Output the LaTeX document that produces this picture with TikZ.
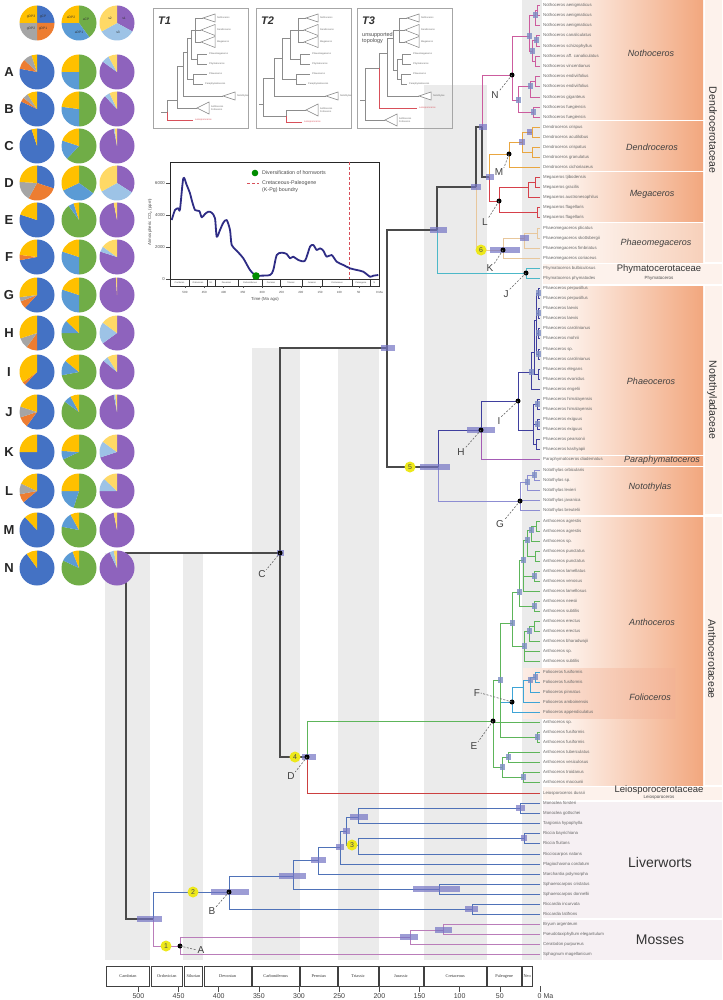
\documentclass[tikz,border=0pt]{standalone}
\usepackage{fontspec}
\setmainfont{Liberation Sans}
\newfontfamily\tserif{Liberation Serif}
\usetikzlibrary{calc}
\definecolor{bandc}{HTML}{EBEBEB}
\definecolor{bbc}{HTML}{4A4A4A}
\definecolor{cNotho}{HTML}{CC5C9E}
\definecolor{cDendro}{HTML}{E9A640}
\definecolor{cMega}{HTML}{D6404A}
\definecolor{cPmeg}{HTML}{E8C79C}
\definecolor{cPhym}{HTML}{4CB8C8}
\definecolor{cPhaeo}{HTML}{3F3F9E}
\definecolor{cPara}{HTML}{A45BB5}
\definecolor{cNoto}{HTML}{8D8DD2}
\definecolor{cAnth}{HTML}{5DB55A}
\definecolor{cFol}{HTML}{3EA4D6}
\definecolor{cLeio}{HTML}{CC4040}
\definecolor{cLiv}{HTML}{4F72B8}
\definecolor{cMoss}{HTML}{BA7DBA}
\definecolor{cBar}{HTML}{7474C4}
\definecolor{cSbar}{HTML}{7C8CC4}
\definecolor{peach}{HTML}{F2A77E}
\definecolor{peachl}{HTML}{F7D0BA}
\definecolor{folc}{HTML}{F3B394}
\definecolor{famc}{HTML}{FDF2EC}
\definecolor{outc}{HTML}{F6F0F3}
\definecolor{kpg}{HTML}{D8505A}
\definecolor{pBlue}{HTML}{4472C4}
\definecolor{pOrange}{HTML}{ED7D31}
\definecolor{pGray}{HTML}{A5A5A5}
\definecolor{pYellow}{HTML}{FFC000}
\definecolor{pGreen}{HTML}{70AD47}
\definecolor{pLBlue}{HTML}{5B9BD5}
\definecolor{pPurple}{HTML}{8E63BD}
\definecolor{pPaleBlue}{HTML}{9DC3E6}
\definecolor{pPaleYel}{HTML}{FFD966}
\definecolor{ycol}{HTML}{EDE81A}
\definecolor{co2c}{HTML}{2E2C85}
\newcommand{\edg}[3]{\draw[#1] (#2) |- (#3);}
\newcommand{\mypie}[3]{%
  \gdef\pieacc{0}%
  \edef\pielist{#3}%
  \foreach \f/\c in \pielist {%
    \pgfmathsetmacro{\aS}{90-360*\pieacc}%
    \pgfmathsetmacro{\aE}{90-360*(\pieacc+\f)}%
    \fill[\c] (#1,#2) -- ++(\aS:17.5pt) arc[start angle=\aS, end angle=\aE, radius=17.5pt] -- cycle;
    \pgfmathsetmacro{\tmpacc}{\pieacc+\f}\xdef\pieacc{\tmpacc}%
  }}
\newcommand{\mtips}[1]{%
 \coordinate (#1No) at (50,10); \coordinate (#1De) at (48,22); \coordinate (#1Me) at (48,34);
 \coordinate (#1Pm) at (54,46); \coordinate (#1Py) at (54,56); \coordinate (#1Ph) at (54,66); \coordinate (#1Pa) at (50,76);
 \draw[tri] (#1No) -- (62,6) -- (62,14) -- cycle; \node[mtl] (#1lNo) at (64,10) {Nothoceros};
 \draw[tri] (#1De) -- (62,16.5) -- (62,27.5) -- cycle; \node[mtl] (#1lDe) at (64,22) {Dendroceros};
 \draw[tri] (#1Me) -- (62,28.5) -- (62,39.5) -- cycle; \node[mtl] (#1lMe) at (64,34) {Megaceros};
 \node[mtl] (#1lPm) at (56,46) {Phaeomegaceros};
 \node[mtl] (#1lPy) at (56,56) {Phymatoceros};
 \node[mtl] (#1lPh) at (56,66) {Phaeoceros};
 \node[mtl] (#1lPa) at (52,76) {Paraphymatoceros};}
\begin{document}
\begin{tikzpicture}[x=1pt,y=-1pt,
  br/.style={line width=0.9pt},
  bb/.style={draw=bbc,line width=1.2pt},
  notho/.style={br,draw=cNotho}, dendro/.style={br,draw=cDendro}, mega/.style={br,draw=cMega},
  pmeg/.style={br,draw=cPmeg}, phym/.style={br,draw=cPhym}, phaeo/.style={br,draw=cPhaeo},
  para/.style={br,draw=cPara}, noto/.style={br,draw=cNoto}, anth/.style={br,draw=cAnth},
  fol/.style={br,draw=cFol}, leio/.style={br,draw=cLeio}, liv/.style={br,draw=cLiv}, moss/.style={br,draw=cMoss},
  hpd/.style={fill=cBar,opacity=0.7}, sbar/.style={fill=cSbar,opacity=0.8},
  leaf/.style={anchor=west,inner sep=0,font=\fontsize{4.3}{4.3}\selectfont,text=black!60},
  gen/.style={inner sep=0,font=\fontsize{9}{9}\selectfont\itshape,text=black!75},
  fam/.style={inner sep=0,font=\fontsize{9.5}{9.5}\selectfont,text=black!80},
  famsm/.style={inner sep=0,font=\fontsize{4.5}{4.5}\selectfont,text=black!70},
  famr/.style={inner sep=0,font=\fontsize{10.5}{10.5}\selectfont,text=black!80,rotate=-90},
  bigl/.style={inner sep=0,font=\fontsize{14}{14}\selectfont,text=black!80},
  letl/.style={inner sep=0.5pt,font=\fontsize{10}{10}\selectfont,text=black!75},
  lead/.style={draw=black!60,line width=0.6pt,dash pattern=on 2pt off 1.5pt},
  ycirc/.style={circle,fill=ycol,inner sep=0,minimum size=11pt,font=\fontsize{7}{7}\selectfont,text=black!70},
  mt/.style={draw=black!45,line width=0.5pt}, mtr/.style={draw=kpg,line width=0.5pt},
  mtl/.style={anchor=west,inner sep=0,font=\fontsize{2.4}{2.6}\selectfont,text=black!60},
  tri/.style={draw=black!50,line width=0.5pt,fill=white},
  tlab/.style={anchor=west,inner sep=0,font=\fontsize{11}{11}\selectfont\bfseries\itshape,text=black!80},
  rowlab/.style={inner sep=0,font=\fontsize{13}{13}\selectfont\bfseries,text=black!85},
  pl/.style={inner sep=0,font=\fontsize{3.3}{3.3}\selectfont,text=black!80},
  co2t/.style={inner sep=0,font=\fontsize{4.3}{4.3}\selectfont,text=black!70},
  tick/.style={draw=black!70,line width=0.6pt}
]
\useasboundingbox (0,0) rectangle (722,1000);
\fill[white] (0,0) rectangle (722,1000);
% ---------- geological bands
\foreach \a/\b/\tp in {541/485/553,444/419/553,359/299/348,252/201/348,145/66/85}
  \fill[bandc] ({540-0.8032*\a},\tp) rectangle ({540-0.8032*\b},960);
\fill[bandc] (521.5,0) rectangle (542,960);
% ---------- clade boxes
\shade[left color=white,right color=peach] (543,0) rectangle (703,120);
\shade[left color=white,right color=peach] (543,122) rectangle (703,171);
\shade[left color=white,right color=peach] (543,173) rectangle (703,222);
\shade[left color=white,right color=peachl] (543,224) rectangle (703,262);
\fill[famc] (543,264) rectangle (722,284);
\shade[left color=white,right color=peach] (543,286) rectangle (703,454);
\shade[left color=white,right color=peach] (543,456) rectangle (703,465);
\shade[left color=white,right color=peach] (543,467) rectangle (703,514);
\shade[left color=white,right color=peach] (543,517) rectangle (703,785);
\shade[left color=folc!25,right color=folc] (523,668) rectangle (675,718);
\fill[famc] (543,787) rectangle (722,800);
\fill[outc] (543,802) rectangle (722,918);
\fill[outc] (543,920) rectangle (722,960);
\fill[famc] (705,0) rectangle (722,262);
\fill[famc] (705,286) rectangle (722,514);
\fill[famc] (705,517) rectangle (722,785);
% ---------- leaves
\foreach \y/\nm in {5/Nothoceros aenigmaticus,15/Nothoceros aenigmaticus,25/Nothoceros aenigmaticus,35/Nothoceros canaliculatus,46/Nothoceros schizophyllus,56/Nothoceros aff. canaliculatus,66/Nothoceros vincentianus,76/Nothoceros endiviifolius,86/Nothoceros endiviifolius,97/Nothoceros giganteus,107/Nothoceros fuegiensis,117/Nothoceros fuegiensis,127/Dendroceros crispus,137/Dendroceros acutilobus,147/Dendroceros crispatus,157/Dendroceros granulatus,167/Dendroceros cichoriaceus,177/Megaceros tjibodensis,187/Megaceros gracilis,197/Megaceros austronesophilus,207/Megaceros flagellaris,217/Megaceros flagellaris,228/Phaeomegaceros plicatus,238/Phaeomegaceros skottsbergii,248/Phaeomegaceros fimbriatus,258/Phaeomegaceros coriaceus,268/Phymatoceros bulbiculosus,278/Phymatoceros phymatodes,288/Phaeoceros perpusillus,298/Phaeoceros perpusillus,308/Phaeoceros laevis,318/Phaeoceros laevis,328/Phaeoceros carolinianus,338/Phaeoceros mohrii,349/Phaeoceros sp.,359/Phaeoceros carolinianus,369/Phaeoceros elegans,379/Phaeoceros evanidus,389/Phaeoceros engelii,399/Phaeoceros himalayensis,409/Phaeoceros himalayensis,419/Phaeoceros exiguus,429/Phaeoceros exiguus,439/Phaeoceros pearsonii,449/Phaeoceros kashyapii,459/Paraphymatoceros diadematus,470/Notothylas orbicularis,480/Notothylas sp.,490/Notothylas levieri,500/Notothylas javanica,510/Notothylas breutelii,521/Anthoceros agrestis,531/Anthoceros agrestis,541/Anthoceros sp.,551/Anthoceros punctatus,561/Anthoceros punctatus,571/Anthoceros lamellatus,581/Anthoceros venosus,591/Anthoceros lamellosus,601/Anthoceros neesii,611/Anthoceros subtilis,621/Anthoceros erectus,631/Anthoceros erectus,641/Anthoceros bharadwajii,651/Anthoceros sp.,661/Anthoceros subtilis,672/Folioceros fusiformis,682/Folioceros fusiformis,692/Folioceros pinnatus,702/Folioceros amboinensis,712/Folioceros appendiculatus,722/Anthoceros sp.,732/Anthoceros fusiformis,742/Anthoceros fusiformis,752/Anthoceros tuberculatus,762/Anthoceros vesiculosus,772/Anthoceros troidanus,782/Anthoceros macounii,793/Leiosporoceros dussii,803/Monoclea forsteri,813/Monoclea gottschei,823/Targionia hypophylla,833/Riccia bayrichiana,843/Riccia fluitans,854/Ricciocarpos natans,864/Plagiochasma cordatum,874/Marchantia polymorpha,884/Sphaerocarpos cristatus,894/Sphaerocarpos donnellii,904/Riccardia incurvata,914/Riccardia latifrons,924/Bryum argenteum,934/Pseudotaxiphyllum elegantulum,944/Ceratodon purpureus,954/Sphagnum magellanicum}
  {\coordinate (t\y) at (540,\y); \node[leaf] (lab\y) at (543,\y) {\nm};}
% ---------- internal nodes
\coordinate (root) at (126,736); \coordinate (C) at (280,553); \coordinate (U) at (387,348);
\coordinate (D) at (307,757); \coordinate (N5) at (438,467); \coordinate (X1) at (437,230);
\coordinate (X2) at (476,187); \coordinate (X3) at (482,127); \coordinate (X4) at (489,177);
\coordinate (J) at (526,273); \coordinate (K) at (503,250); \coordinate (N) at (512,75);
\coordinate (M) at (509,154); \coordinate (L) at (499,201);
\coordinate (Nu) at (529,36); \coordinate (Nl) at (518,100); \coordinate (Na) at (535,15); \coordinate (Na1) at (537,10);
\coordinate (Nb) at (532,51); \coordinate (Nb1) at (536,40); \coordinate (Nb2) at (535,61);
\coordinate (Nc) at (530,86); \coordinate (Nc1) at (535,81); \coordinate (Nd) at (533,112);
\coordinate (Ma) at (522,142); \coordinate (Mb) at (532,132); \coordinate (Mc) at (532,152);
\coordinate (La) at (528,187); \coordinate (La1) at (535,182); \coordinate (Lb) at (537,212);
\coordinate (Ka) at (524,238); \coordinate (Ka1) at (537,233);
\coordinate (H) at (481,430); \coordinate (G) at (520,501); \coordinate (I) at (518,401);
\coordinate (P1) at (531,372); \coordinate (P2) at (534,352); \coordinate (P3) at (536,320); \coordinate (P4) at (538,374);
\coordinate (Q1) at (538,293); \coordinate (Q2) at (538,313); \coordinate (Q3) at (538,333); \coordinate (Q4) at (538,354);
\coordinate (P5) at (533,430); \coordinate (R1) at (537,404); \coordinate (R2) at (537,424); \coordinate (R3) at (536,444);
\coordinate (Ga) at (527,482); \coordinate (Gb) at (534,475);
\coordinate (E) at (493,721); \coordinate (E1) at (500,680); \coordinate (Eb) at (502,767);
\coordinate (Ac) at (512,623); \coordinate (F) at (512,702); \coordinate (Af) at (537,737);
\coordinate (Aa) at (519,592); \coordinate (Ab) at (524,646); \coordinate (Aa1) at (523,560); \coordinate (Aa2) at (534,606);
\coordinate (Aa11) at (527,540); \coordinate (Aa12) at (534,576); \coordinate (Aa111) at (531,530);
\coordinate (Aa1111) at (536,526); \coordinate (Aa112) at (535,556);
\coordinate (Ab1) at (529,631); \coordinate (Ab2) at (534,626);
\coordinate (Fa) at (523,687); \coordinate (Fb) at (530,680); \coordinate (Fc) at (535,677);
\coordinate (Ec) at (508,757); \coordinate (Ed) at (523,777);
\coordinate (LM) at (153,919); \coordinate (B) at (229,892); \coordinate (A) at (180,946);
\coordinate (Lc) at (293,876); \coordinate (Rc) at (472,909); \coordinate (Lm) at (318,860);
\coordinate (Sp) at (439,889); \coordinate (Lm2) at (340,847); \coordinate (Lm3) at (346,831);
\coordinate (Mon) at (358,817); \coordinate (R3n) at (358,845); \coordinate (Mon2) at (520,808); \coordinate (Ric) at (524,838);
\coordinate (Mo1) at (410,937); \coordinate (Mo2) at (443,930);
% ---------- edges: coloured clades
\edg{notho}{X3}{N} \edg{notho}{N}{Nu} \edg{notho}{N}{Nl} \edg{notho}{Nu}{Na} \edg{notho}{Nu}{Nb}
\edg{notho}{Na}{Na1} \edg{notho}{Na}{t25} \edg{notho}{Na1}{t5} \edg{notho}{Na1}{t15}
\edg{notho}{Nb}{Nb1} \edg{notho}{Nb}{Nb2} \edg{notho}{Nb1}{t35} \edg{notho}{Nb1}{t46} \edg{notho}{Nb2}{t56} \edg{notho}{Nb2}{t66}
\edg{notho}{Nl}{Nc} \edg{notho}{Nl}{Nd} \edg{notho}{Nc}{Nc1} \edg{notho}{Nc}{t97} \edg{notho}{Nc1}{t76} \edg{notho}{Nc1}{t86}
\edg{notho}{Nd}{t107} \edg{notho}{Nd}{t117}
\edg{dendro}{X4}{M} \edg{dendro}{M}{Ma} \edg{dendro}{M}{t167} \edg{dendro}{Ma}{Mb} \edg{dendro}{Ma}{Mc}
\edg{dendro}{Mb}{t127} \edg{dendro}{Mb}{t137} \edg{dendro}{Mc}{t147} \edg{dendro}{Mc}{t157}
\edg{mega}{X4}{L} \edg{mega}{L}{La} \edg{mega}{L}{Lb} \edg{mega}{La}{La1} \edg{mega}{La}{t197}
\edg{mega}{La1}{t177} \edg{mega}{La1}{t187} \edg{mega}{Lb}{t207} \edg{mega}{Lb}{t217}
\edg{pmeg}{X2}{K} \edg{pmeg}{K}{Ka} \edg{pmeg}{K}{t258} \edg{pmeg}{Ka}{Ka1} \edg{pmeg}{Ka}{t248}
\edg{pmeg}{Ka1}{t228} \edg{pmeg}{Ka1}{t238}
\edg{phym}{X1}{J} \edg{phym}{J}{t268} \edg{phym}{J}{t278}
\edg{phaeo}{N5}{H} \edg{noto}{N5}{G} \edg{phaeo}{H}{I} \edg{para}{H}{t459}
\edg{phaeo}{I}{P1} \edg{phaeo}{I}{P5} \edg{phaeo}{P1}{P2} \edg{phaeo}{P1}{t389} \edg{phaeo}{P2}{P3} \edg{phaeo}{P2}{P4}
\edg{phaeo}{P3}{Q1} \edg{phaeo}{P3}{Q2} \edg{phaeo}{P3}{Q3} \edg{phaeo}{P3}{Q4}
\edg{phaeo}{P4}{t369} \edg{phaeo}{P4}{t379}
\edg{phaeo}{Q1}{t288} \edg{phaeo}{Q1}{t298} \edg{phaeo}{Q2}{t308} \edg{phaeo}{Q2}{t318}
\edg{phaeo}{Q3}{t328} \edg{phaeo}{Q3}{t338} \edg{phaeo}{Q4}{t349} \edg{phaeo}{Q4}{t359}
\edg{phaeo}{P5}{R1} \edg{phaeo}{P5}{R2} \edg{phaeo}{P5}{R3}
\edg{phaeo}{R1}{t399} \edg{phaeo}{R1}{t409} \edg{phaeo}{R2}{t419} \edg{phaeo}{R2}{t429} \edg{phaeo}{R3}{t439} \edg{phaeo}{R3}{t449}
\edg{noto}{G}{Ga} \edg{noto}{G}{t500} \edg{noto}{G}{t510} \edg{noto}{Ga}{Gb} \edg{noto}{Ga}{t490}
\edg{noto}{Gb}{t470} \edg{noto}{Gb}{t480}
\edg{anth}{D}{E} \edg{leio}{D}{t793}
\edg{anth}{E}{E1} \edg{anth}{E}{t722} \edg{anth}{E}{Eb} \edg{anth}{E1}{Ac} \edg{fol}{E1}{F} \edg{anth}{E1}{Af}
\edg{anth}{Ac}{Aa} \edg{anth}{Ac}{Ab} \edg{anth}{Aa}{Aa1} \edg{anth}{Aa}{Aa2} \edg{anth}{Aa2}{t601} \edg{anth}{Aa2}{t611}
\edg{anth}{Aa1}{Aa11} \edg{anth}{Aa1}{Aa12} \edg{anth}{Aa1}{t591} \edg{anth}{Aa12}{t571} \edg{anth}{Aa12}{t581}
\edg{anth}{Aa11}{Aa111} \edg{anth}{Aa11}{Aa112} \edg{anth}{Aa111}{Aa1111} \edg{anth}{Aa111}{t541}
\edg{anth}{Aa1111}{t521} \edg{anth}{Aa1111}{t531} \edg{anth}{Aa112}{t551} \edg{anth}{Aa112}{t561}
\edg{anth}{Ab}{Ab1} \edg{anth}{Ab}{t651} \edg{anth}{Ab}{t661} \edg{anth}{Ab1}{Ab2} \edg{anth}{Ab1}{t641}
\edg{anth}{Ab2}{t621} \edg{anth}{Ab2}{t631}
\edg{fol}{F}{Fa} \edg{fol}{F}{t712} \edg{fol}{Fa}{Fb} \edg{fol}{Fa}{t702} \edg{fol}{Fb}{Fc} \edg{fol}{Fb}{t692}
\edg{fol}{Fc}{t672} \edg{fol}{Fc}{t682}
\edg{anth}{Af}{t732} \edg{anth}{Af}{t742} \edg{anth}{Eb}{Ec} \edg{anth}{Eb}{Ed}
\edg{anth}{Ec}{t752} \edg{anth}{Ec}{t762} \edg{anth}{Ed}{t772} \edg{anth}{Ed}{t782}
\edg{liv}{LM}{B} \edg{moss}{LM}{A}
\edg{liv}{B}{Lc} \edg{liv}{B}{Rc} \edg{liv}{Lc}{Lm} \edg{liv}{Lc}{Sp} \edg{liv}{Lm}{Lm2} \edg{liv}{Lm}{t874}
\edg{liv}{Lm2}{Lm3} \edg{liv}{Lm2}{t864} \edg{liv}{Lm3}{Mon} \edg{liv}{Lm3}{R3n}
\edg{liv}{Mon}{Mon2} \edg{liv}{Mon}{t823} \edg{liv}{Mon2}{t803} \edg{liv}{Mon2}{t813}
\edg{liv}{R3n}{Ric} \edg{liv}{R3n}{t854} \edg{liv}{Ric}{t833} \edg{liv}{Ric}{t843}
\edg{liv}{Sp}{t884} \edg{liv}{Sp}{t894} \edg{liv}{Rc}{t904} \edg{liv}{Rc}{t914}
\edg{moss}{A}{Mo1} \edg{moss}{A}{t954} \edg{moss}{Mo1}{Mo2} \edg{moss}{Mo1}{t944}
\edg{moss}{Mo2}{t924} \edg{moss}{Mo2}{t934}
% ---------- backbone
\edg{bb}{root}{C} \edg{bb}{root}{LM} \edg{bb}{C}{U} \edg{bb}{C}{D}
\edg{bb}{U}{X1} \edg{bb}{U}{N5} \edg{bb}{X1}{X2} \edg{bb}{X2}{X3} \edg{bb}{X3}{X4}
% ---------- HPD bars
\foreach \a/\b/\yy in {137/162/919,211/249/892,279/306/876,311/326/860,336/344/847,343/350/831,350/368/817,516/525/808,521/527/838,413/460/889,465/478/909,400/418/937,435/452/930,277/284/553,381/395/348,302/316/757,430/447/230,471/481/187,479/487/127,486/494/177,519/525/142,520/529/238,490/520/250,420/450/467,467/495/430,527/532/132}
  \fill[hpd] (\a,{\yy-3.2}) rectangle (\b,{\yy+3.2});
\foreach \xx/\yy in {500/680,512/623,519/592,523/560,527/540,531/530,530/680,524/646,529/631,502/767,508/757,523/777,537/737,534/606,534/576,535/677,529/36,518/100,530/86,535/15,532/51,536/40,533/112,538/293,538/313,538/333,538/354,537/404,537/424,531/372,527/482,534/475}
  \fill[sbar] ({\xx-2.5},{\yy-3.2}) rectangle ({\xx+2.5},{\yy+3.2});
% ---------- labelled nodes
\foreach \nn in {A,B,C,D,E,F,G,H,I,J,K,L,M,N} \fill[black] (\nn) circle (2.5pt);
\node[ycirc] (y1) at (166,946) {1};
\node[ycirc] (y2) at (193,892) {2};
\node[ycirc] (y3) at (352,845) {3};
\node[ycirc] (y4) at (295,757) {4};
\node[ycirc] (y5) at (410,467) {5};
\node[ycirc] (y6) at (481,250) {6};
\node[letl,anchor=west] (lA) at (197,950) {A}; \draw[lead] (A) -- (lA.west);
\foreach \nn/\lx/\ly in {B/212/911,C/262/574,D/291/776,E/474/746,G/500/524,H/461/452,I/499/421,J/506/294,K/490/268,L/485/222,M/499/172,N/495/95}
  {\node[letl] (l\nn) at (\lx,\ly) {\nn}; \draw[lead] (\nn) -- (l\nn.north east);}
\node[letl] (lF) at (477,693) {F}; \draw[lead] (F) -- (lF.east);
% ---------- right-hand labels
\node[gen] (gNotho) at (651,53) {Nothoceros};
\node[gen] (gDendro) at (652,147) {Dendroceros};
\node[gen] (gMega) at (652,194) {Megaceros};
\node[gen] (gPmeg) at (656,243) {Phaeomegaceros};
\node[fam] (fPhym) at (659,269) {Phymatocerotaceae};
\node[famsm] (sPhym) at (659,278) {Phymatoceros};
\node[gen] (gPhaeo) at (651,381) {Phaeoceros};
\node[gen] (gPara) at (662,460) {Paraphymatoceros};
\node[gen] (gNoto) at (650,487) {Notothylas};
\node[gen] (gAnth) at (652,622) {Anthoceros};
\node[gen] (gFol) at (650,697) {Folioceros};
\node[fam] (fLeio) at (659,790) {Leiosporocerotaceae};
\node[famsm] (sLeio) at (659,797.5) {Leiosporoceros};
\node[famr] (fDendro) at (713,130) {Dendrocerotaceae};
\node[famr] (fNoto) at (712,400) {Notothyladaceae};
\node[famr] (fAnth) at (712,659) {Anthocerotaceae};
\node[bigl] (fLiv) at (660,862) {Liverworts};
\node[bigl] (fMoss) at (660,940) {Mosses};
% ---------- bottom time scale
\foreach \a/\b/\nm in {541/485/Cambrian,485/444/Ordovician,444/419/Silurian,419/359/Devonian,359/299/Carboniferous,299/252/Permian,252/201/Triassic,201/145/Jurassic,145/66/Cretaceous,66/23/Paleogene,23/9/Neo}
  {\draw[black!75,line width=0.6pt] ({540-0.8032*\a+0.7},966) rectangle ({540-0.8032*\b-0.7},986);
   \node[inner sep=0,font=\tserif\fontsize{4.3}{4.3}\selectfont,text=black!80] (per\a) at ({540-0.8032*(\a+\b)/2},976) {\nm};}
\foreach \t in {500,450,...,0} \draw[tick] ({540-0.8032*\t},986) -- ({540-0.8032*\t},992);
\foreach \t in {500,450,...,50} \node[inner sep=0,anchor=north,font=\fontsize{7}{7}\selectfont,text=black!75] (tk\t) at ({540-0.8032*\t},993) {\t};
\node[inner sep=0,anchor=north west,font=\fontsize{7}{7}\selectfont,text=black!75] (tk0) at (537.5,993) {0 Ma};
% ---------- CO2 inset
\draw[black!85,line width=0.7pt] (170,162) rectangle (379,279);
\foreach \v/\yy in {0/279,2000/247,4000/215,6000/183}
  {\draw[black!70,line width=0.5pt] (166,\yy) -- (170,\yy); \node[co2t,anchor=east] (yt\v) at (165,\yy) {\v};}
\node[co2t,rotate=90] (co2title) at (150,222) {Atmospheric CO\textsubscript{2} (ppm)};
\foreach \a/\b/\nm in {170/189/Cambrian,189/207/Ordovician,207/215/Sil.,215/238/Devonian,238/262/Carboniferous,262/280/Permian,280/302/Triassic,302/322/Jurassic,322/352/Cretaceous,352/370/Paleogene,370/379/N}
  {\draw[black!80,line width=0.4pt] (\a,279) rectangle (\b,286);
   \node[inner sep=0,font=\fontsize{2.2}{2.2}\selectfont,text=black!70] (cp\a) at ({(\a+\b)/2},282.5) {\nm};}
\foreach \t in {500,450,...,50}
  {\draw[black!70,line width=0.4pt] ({378-0.386*\t},286) -- ({378-0.386*\t},288);
   \node[inner sep=0,font=\fontsize{3}{3}\selectfont,text=black!70] (ct\t) at ({378-0.386*\t},292) {\t};}
\node[inner sep=0,anchor=west,font=\fontsize{3}{3}\selectfont,text=black!70] (ct0) at (376,292) {0 Ma};
\node[co2t] (timelab) at (265,299) {Time (Ma ago)};
\draw[kpg,line width=0.7pt,dash pattern=on 3pt off 2pt] (349,162) -- (349,279);
\draw[co2c,line width=1.8pt,line join=round] plot[smooth,tension=0.45] coordinates {(171.7,220) (175,210) (178.3,208.3) (180,209.3) (183.3,178.3) (186.7,185) (190,193.3) (191.7,200) (195,210) (199.3,211) (201.7,217.3) (205,214) (208.3,211.7) (211.7,212.7) (215,218.3) (216.7,236.7) (220,230) (223.3,222.7) (226.7,220) (230,230) (231.7,245) (236.7,250.7) (243.3,258.3) (250,270) (256,276) (260,275.7) (270,275) (273.3,270) (276.7,255) (281.7,252.7) (286.7,254) (290,258.3) (293.3,256.7) (298.3,260) (305,260.7) (310,246.7) (313.3,245) (316.7,250) (320,248.3) (323.3,250.7) (326.7,256.7) (331.7,255) (336.7,261.7) (343.3,265) (350,268.3) (356.7,270) (363.3,271.7) (370,276.7) (373.3,275.7) (378.3,275)};
\fill[green!55!black] (256,276) circle (3.8pt);
\fill[green!55!black] (255,173) circle (3.3pt);
\node[inner sep=0,anchor=west,font=\fontsize{5.3}{5.3}\selectfont,text=black!70] (lg1) at (262,173) {Diversification of hornworts};
\draw[kpg,line width=0.7pt,dash pattern=on 3pt off 2pt] (247,183) -- (259,183);
\node[inner sep=0,anchor=west,font=\fontsize{5.3}{5.3}\selectfont,text=black!70] (lg2) at (262,183) {Cretaceous-Paleogene};
\node[inner sep=0,anchor=west,font=\fontsize{5.3}{5.3}\selectfont,text=black!70] (lg3) at (262,190.5) {(K-Pg) boundry};
% ---------- T insets
\foreach \bx in {153,256,357} \draw[black!35,line width=0.7pt] (\bx,8) rectangle ({\bx+95},128);
\begin{scope}[shift={(153,8)}]
 \node[tlab] (T1lab) at (5,13) {T1};
 \mtips{p}
 \coordinate (p0) at (8,104); \coordinate (pa) at (14,104); \coordinate (pb) at (24,92); \coordinate (pc) at (30,58);
 \coordinate (pd) at (34,44); \coordinate (pe) at (38,30); \coordinate (pf) at (40,71); \coordinate (pg) at (42,22); \coordinate (ph) at (44,51);
 \coordinate (pNt) at (70,88); \coordinate (pAn) at (44,100); \coordinate (pLe) at (40,112);
 \draw[mt] (p0) -- (pa);
 \edg{mt}{pa}{pb} \edg{mtr}{pa}{pLe} \edg{mt}{pb}{pc} \edg{mt}{pb}{pAn} \edg{mt}{pc}{pd} \edg{mt}{pc}{pNt}
 \edg{mt}{pd}{pe} \edg{mt}{pd}{pf} \edg{mt}{pf}{pPh} \edg{mt}{pf}{pPa} \edg{mt}{pe}{pg} \edg{mt}{pe}{ph}
 \edg{mt}{ph}{pPm} \edg{mt}{ph}{pPy} \edg{mt}{pg}{pNo} \edg{mt}{pg}{pDe} \edg{mt}{pg}{pMe}
 \draw[tri] (pNt) -- (82,84) -- (82,92) -- cycle; \node[mtl] (plNt) at (84,88) {Notothylas};
 \draw[tri] (pAn) -- (56,94) -- (56,106) -- cycle; \node[mtl,align=left] (plAn) at (58,100) {Anthoceros\\Folioceros};
 \node[mtl,text=kpg] (plLe) at (42,112) {Leiosporoceros};
\end{scope}
\begin{scope}[shift={(256,8)}]
 \node[tlab] (T2lab) at (5,13) {T2};
 \mtips{q}
 \coordinate (q0) at (3,96); \coordinate (qa) at (7,96); \coordinate (qb) at (18,70); \coordinate (qm) at (30,108);
 \coordinate (qc) at (26,50); \coordinate (qe) at (34,30); \coordinate (qf) at (40,71); \coordinate (qg) at (42,22); \coordinate (qh) at (44,51);
 \coordinate (qNt) at (70,88); \coordinate (qAn) at (50,102); \coordinate (qLe) at (46,114);
 \draw[mt] (q0) -- (qa);
 \edg{mt}{qa}{qb} \edg{mt}{qa}{qm} \edg{mt}{qm}{qAn} \edg{mtr}{qm}{qLe} \edg{mt}{qb}{qc} \edg{mt}{qb}{qNt}
 \edg{mt}{qc}{qe} \edg{mt}{qc}{qf} \edg{mt}{qf}{qPh} \edg{mt}{qf}{qPa} \edg{mt}{qe}{qg} \edg{mt}{qe}{qh}
 \edg{mt}{qh}{qPm} \edg{mt}{qh}{qPy} \edg{mt}{qg}{qNo} \edg{mt}{qg}{qDe} \edg{mt}{qg}{qMe}
 \draw[tri] (qNt) -- (82,84) -- (82,92) -- cycle; \node[mtl] (qlNt) at (84,88) {Notothylas};
 \draw[tri] (qAn) -- (62,96) -- (62,108) -- cycle; \node[mtl,align=left] (qlAn) at (64,102) {Anthoceros\\Folioceros};
 \node[mtl,text=kpg] (qlLe) at (48,114) {Leiosporoceros};
\end{scope}
\begin{scope}[shift={(357,8)}]
 \node[tlab] (T3lab) at (5,13) {T3};
 \node[inner sep=0,anchor=north west,align=left,font=\fontsize{5.5}{6.2}\selectfont,text=black!70] (T3txt) at (5,24) {unsupported\\topology};
 \mtips{r}
 \coordinate (r0) at (3,92); \coordinate (ra) at (8,92); \coordinate (rb) at (22,60); \coordinate (rc) at (30,45);
 \coordinate (re) at (36,30); \coordinate (rk) at (40,62); \coordinate (rg) at (42,22); \coordinate (rh) at (45,51); \coordinate (rf) at (44,71);
 \coordinate (rNt) at (62,88); \coordinate (rAn) at (28,112); \coordinate (rLe) at (60,100);
 \draw[mt] (r0) -- (ra);
 \edg{mt}{ra}{rb} \edg{mt}{ra}{rAn} \edg{mt}{rb}{rc} \edg{mtr}{rb}{rLe} \edg{mt}{rc}{re} \edg{mt}{rc}{rNt}
 \edg{mt}{re}{rg} \edg{mt}{re}{rk} \edg{mt}{rk}{rh} \edg{mt}{rk}{rf}
 \edg{mt}{rh}{rPm} \edg{mt}{rh}{rPy} \edg{mt}{rf}{rPh} \edg{mt}{rf}{rPa} \edg{mt}{rg}{rNo} \edg{mt}{rg}{rDe} \edg{mt}{rg}{rMe}
 \draw[tri] (rNt) -- (74,84) -- (74,92) -- cycle; \node[mtl] (rlNt) at (76,88) {Notothylas};
 \draw[tri] (rAn) -- (40,106) -- (40,118) -- cycle; \node[mtl,align=left] (rlAn) at (42,112) {Anthoceros\\Folioceros};
 \node[mtl,text=kpg] (rlLe) at (62,100) {Leiosporoceros};
\end{scope}
% ---------- pies
\mypie{37}{23}{.25/pBlue,.25/pOrange,.25/pGray,.25/pYellow}
\mypie{79}{23}{.4/pGreen,.35/pLBlue,.25/pYellow}
\mypie{117}{23}{.33/pPurple,.34/pPaleBlue,.33/pPaleYel}
\node[pl] (lg-a) at (43,17) {gCP}; \node[pl] (lg-b) at (43,29) {gDP1}; \node[pl] (lg-c) at (31,29) {gDP2}; \node[pl] (lg-d) at (31,17) {gDP3};
\node[pl] (lg-e) at (86,19) {aCP}; \node[pl] (lg-f) at (79,32) {aDP1}; \node[pl] (lg-g) at (71,17) {aDP2};
\node[pl] (lg-h) at (124,18) {s1}; \node[pl] (lg-i) at (118,32) {s3}; \node[pl] (lg-j) at (110,18) {s2};
\foreach \r/\yy/\pa/\pb/\pc in {
 A/72/{.78/pBlue,.09/pOrange,.08/pGray,.05/pYellow}/{.50/pGreen,.25/pLBlue,.25/pYellow}/{.85/pPurple,.07/pPaleBlue,.08/pPaleYel},
 B/109/{.82/pBlue,.04/pOrange,.05/pGray,.09/pYellow}/{.50/pGreen,.27/pLBlue,.23/pYellow}/{.88/pPurple,.05/pPaleBlue,.07/pPaleYel},
 C/146/{.95/pBlue,.05/pYellow}/{.62/pGreen,.18/pLBlue,.20/pYellow}/{.97/pPurple,.01/pPaleBlue,.02/pPaleYel},
 D/183/{.30/pBlue,.28/pOrange,.18/pGray,.24/pYellow}/{.35/pGreen,.33/pLBlue,.32/pYellow}/{.34/pPurple,.33/pPaleBlue,.33/pPaleYel},
 E/220/{.80/pBlue,.20/pYellow}/{.90/pGreen,.05/pLBlue,.05/pYellow}/{.97/pPurple,.03/pPaleYel},
 F/257/{.72/pBlue,.05/pOrange,.23/pYellow}/{.50/pGreen,.30/pLBlue,.20/pYellow}/{.80/pPurple,.05/pPaleBlue,.15/pPaleYel},
 G/295/{.62/pBlue,.07/pOrange,.04/pGray,.27/pYellow}/{.50/pGreen,.30/pLBlue,.20/pYellow}/{.99/pPurple,.01/pPaleYel},
 H/333/{.50/pBlue,.10/pOrange,.10/pGray,.30/pYellow}/{.75/pGreen,.12/pLBlue,.13/pYellow}/{.65/pPurple,.20/pPaleBlue,.15/pPaleYel},
 I/372/{.62/pBlue,.03/pOrange,.35/pYellow}/{.72/pGreen,.14/pLBlue,.14/pYellow}/{.86/pPurple,.05/pPaleBlue,.09/pPaleYel},
 J/412/{.60/pBlue,.10/pOrange,.10/pGray,.20/pYellow}/{.85/pGreen,.07/pLBlue,.08/pYellow}/{.97/pPurple,.015/pPaleBlue,.015/pPaleYel},
 K/452/{.75/pBlue,.25/pYellow}/{.68/pGreen,.08/pLBlue,.24/pYellow}/{.70/pPurple,.15/pPaleBlue,.15/pPaleYel},
 L/491/{.64/pBlue,.08/pOrange,.10/pGray,.18/pYellow}/{.55/pGreen,.20/pLBlue,.25/pYellow}/{.75/pPurple,.12/pPaleBlue,.13/pPaleYel},
 M/530/{.88/pBlue,.12/pYellow}/{.78/pGreen,.14/pLBlue,.08/pYellow}/{.97/pPurple,.03/pPaleYel},
 N/568/{.90/pBlue,.10/pYellow}/{.82/pGreen,.12/pLBlue,.06/pYellow}/{.93/pPurple,.04/pPaleBlue,.03/pPaleYel}}
 {\node[rowlab] (row\r) at (9,\yy) {\r};
  \mypie{37}{\yy}{\pa}\mypie{79}{\yy}{\pb}\mypie{117}{\yy}{\pc}}
\end{tikzpicture}
\end{document}
